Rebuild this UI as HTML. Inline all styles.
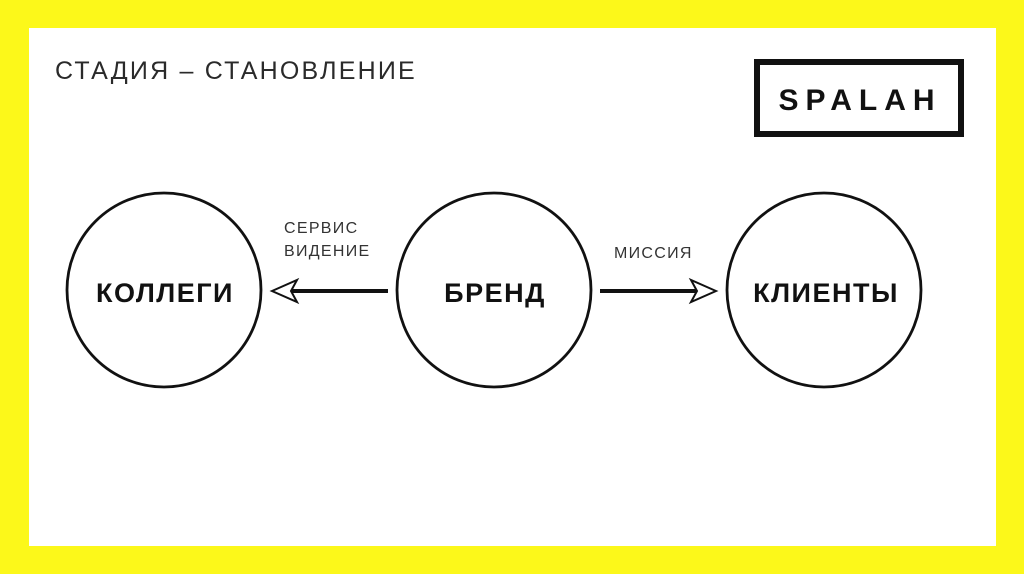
<!DOCTYPE html>
<html><head><meta charset="utf-8"><style>
body{margin:0;width:1024px;height:574px;background:#fff500;overflow:hidden}
</style></head><body>
<svg width="1024" height="574" xmlns="http://www.w3.org/2000/svg" style="position:absolute;left:0;top:0">
<rect x="0" y="0" width="1024" height="574" fill="#fcf81a"/>
<rect x="29" y="28" width="967" height="518" fill="#fff"/>
<text x="55" y="79" font-family="Liberation Sans, DejaVu Sans, sans-serif" font-size="25" fill="#2a2a2a" letter-spacing="2.2">СТАДИЯ – СТАНОВЛЕНИЕ</text>
<rect x="757" y="62" width="204" height="72" fill="none" stroke="#111" stroke-width="6"/>
<text x="860" y="110" text-anchor="middle" font-family="Liberation Sans, sans-serif" font-weight="bold" font-size="30" fill="#111" letter-spacing="7">SPALAH</text>
<g fill="none" stroke="#111" stroke-width="2.8">
<circle cx="164" cy="290" r="97"/>
<circle cx="494" cy="290" r="97"/>
<circle cx="824" cy="290" r="97"/>
</g>
<g stroke="#111" stroke-width="4" fill="none">
<line x1="388" y1="291" x2="290" y2="291"/>
<line x1="600" y1="291" x2="700" y2="291"/>
</g>
<g stroke="#111" stroke-width="2" fill="#fff" stroke-linejoin="miter">
<polygon points="272,291 297,280 291,291 297,302"/>
<polygon points="716,291 691,280 697,291 691,302"/>
</g>
<g font-family="Liberation Sans, sans-serif" font-weight="bold" font-size="27" fill="#111" text-anchor="middle" letter-spacing="1.5">
<text x="165" y="302">КОЛЛЕГИ</text>
<text x="495" y="302">БРЕНД</text>
<text x="826" y="302">КЛИЕНТЫ</text>
</g>
<g font-family="Liberation Sans, sans-serif" font-size="16" fill="#333" letter-spacing="1.3">
<text x="284" y="233">СЕРВИС</text>
<text x="284" y="256">ВИДЕНИЕ</text>
<text x="614" y="258">МИССИЯ</text>
</g>
</svg>
</body></html>
